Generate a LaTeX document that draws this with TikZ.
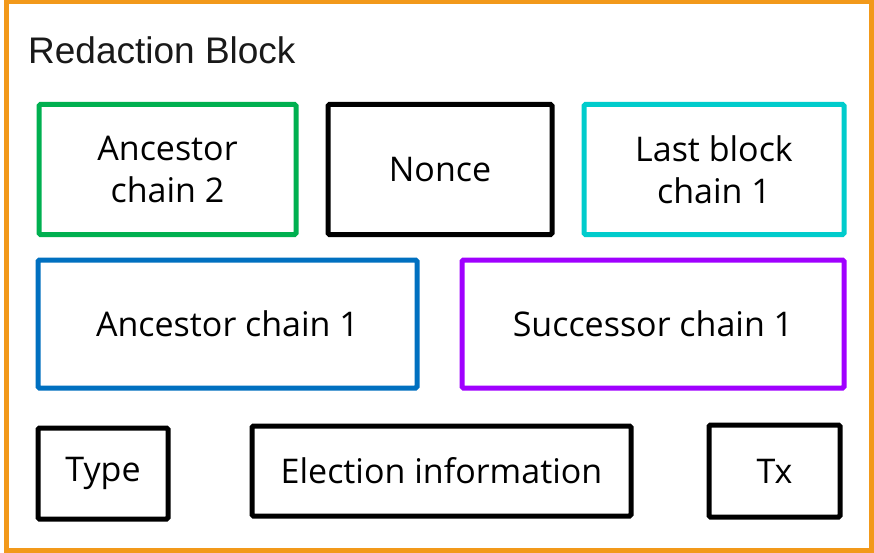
\documentclass[tikz,border=0pt]{standalone}
\usepackage{fontspec}
\setmainfont{Open Sans}
\newfontfamily\titlefont{Liberation Sans}
\definecolor{frameorange}{RGB}{242,153,26}
\definecolor{boxgreen}{RGB}{0,176,80}
\definecolor{boxcyan}{RGB}{0,204,204}
\definecolor{boxblue}{RGB}{0,112,192}
\definecolor{boxpurple}{RGB}{160,0,255}
\tikzset{
  field/.style={draw=black, line width=5pt, rounded corners=1.5pt, align=center,
    font=\fontsize{34}{42}\selectfont, inner sep=0pt},
}
\begin{document}
\begin{tikzpicture}[x=1pt,y=-1pt]
  \useasboundingbox (0,0) rectangle (874,553);
  \fill[white] (0,0) rectangle (874,553);
  % outer frame
  \draw[frameorange, line width=5pt] (6.5,1.5) rectangle (871.5,550);
  \node[anchor=base west, font=\titlefont\fontsize{37}{42}\selectfont, text=black!90, inner sep=0pt]
    (title) at (28,64) {Redaction Block};
  % first row
  \node[field, draw=boxgreen, minimum width=257pt, minimum height=130pt] (anc2) at (167.5,169.5) {Ancestor\\chain 2};
  \node[field, minimum width=224pt, minimum height=130pt] (nonce) at (440,169.5) {Nonce};
  \node[field, draw=boxcyan, minimum width=260pt, minimum height=130pt] (last1) at (714,169.5) {Last block\\chain 1};
  % second row
  \node[field, draw=boxblue, minimum width=379pt, minimum height=128pt] (anc1) at (227.5,324) {Ancestor chain 1};
  \node[field, draw=boxpurple, minimum width=382pt, minimum height=128pt] (succ1) at (653,324) {Successor chain 1};
  % third row
  \node[field, minimum width=130pt, minimum height=91pt] (type) at (103,473.5) {Type};
  \node[field, minimum width=379pt, minimum height=90pt] (elect) at (441.5,471) {Election information};
  \node[field, minimum width=131pt, minimum height=92pt] (tx) at (774.5,471) {Tx};
\end{tikzpicture}
\end{document}
